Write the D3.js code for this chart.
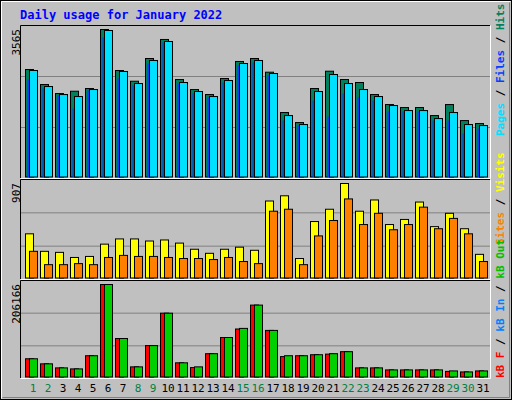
<!DOCTYPE html>
<html><head><meta charset="utf-8">
<script src="https://cdn.jsdelivr.net/npm/d3@7"></script>
<style>body{margin:0;background:#fff}svg{display:block}</style>
</head><body>
<svg id="chart" width="512" height="400"></svg>
<script>
const days = d3.range(1, 32)
const weekend = [1, 2, 8, 9, 15, 16, 22, 23, 29, 30]

const hits  = [2598,2235,2017,2073,2138,3565,2574,2315,2864,3324,2356,2114,1993,2380,2792,2864,2533,1558,1316,2138,2557,2356,2284,1993,1751,1679,1679,1485,1751,1364,1292]
const pages = [2574,2187,1993,1945,2114,3541,2550,2259,2816,3275,2284,2066,1945,2332,2743,2816,2501,1485,1268,2066,2477,2259,2114,1945,1727,1606,1606,1413,1558,1268,1243]
const files = [2356,2138,1969,1655,2090,3372,2380,2211,2743,3251,2259,2017,1921,2284,2695,2767,2453,1364,1243,1848,1461,2017,1921,1848,1582,1582,1582,1364,1364,1050,1171]
const visits = [424,256,246,197,207,325,375,375,355,365,335,276,237,276,296,266,739,789,187,542,660,907,641,749,513,562,729,493,621,473,227]
const sites  = [256,128,128,138,128,197,217,207,207,197,187,187,177,197,158,138,641,660,128,404,552,759,513,621,463,513,680,473,572,424,158]
const kbOut = [40630,29344,20315,18058,47401,206166,85774,22572,69973,142204,31601,22572,51916,88031,108346,160261,103831,47401,47401,49658,51916,56430,20315,20315,15800,15800,15800,15800,13543,11286,13543]
const kbF   = [40630,29344,20315,18058,47401,206166,85774,22572,69973,142204,31601,21000,51916,88031,107000,160261,103831,45500,47401,49658,51000,56430,20315,20315,15800,15800,15800,15800,12500,11286,13543]

const svg = d3.select("#chart")
const font = "'DejaVu Sans Mono', monospace"

svg.append("rect").attr("width", 512).attr("height", 400).attr("fill", "#c0c0c0")
svg.append("rect").attr("x", 0.5).attr("y", 0.5).attr("width", 511).attr("height", 399).attr("fill", "none").attr("stroke", "#000")
svg.append("path").attr("d", "M1.5,398.5V1.5H510.5").attr("fill", "none").attr("stroke", "#fff")
svg.append("path").attr("d", "M2.5,397.5H509.5V2.5").attr("fill", "none").attr("stroke", "#808080")

svg.append("text").attr("x", 20).attr("y", 19).attr("fill", "#0000ff")
    .attr("font-family", font).attr("font-weight", "bold").attr("font-size", 12)
    .text("Daily usage for January 2022")

const x = d3.scaleBand().domain(days).range([20, 485]).paddingInner(0)
// slot width 15 starting at x=25
const slotX = d => 25 + (d - 1) * 15

function panel(top, bottom, max, label, legend, series) {
    svg.append("path").attr("d", `M20.5,${bottom}V${top + 0.5}H490`).attr("fill", "none").attr("stroke", "#000")
    svg.append("path").attr("d", `M20.5,${bottom + 0.5}H490.5V${top + 0.5}`).attr("fill", "none").attr("stroke", "#fff")
    const h = (bottom - top) / 3
    for (let i = 1; i < 3; i++) {
        svg.append("line").attr("x1", 21).attr("x2", 490).attr("y1", top + i * h + 0.5).attr("y2", top + i * h + 0.5)
            .attr("stroke", "#808080")
    }
    const y = d3.scaleLinear().domain([0, max]).range([bottom - 1.5, top + 4])
    series.forEach(s => {
        svg.append("g").selectAll("rect").data(s.data).enter().append("rect")
            .attr("x", (v, i) => slotX(i + 1) + s.off + 0.5)
            .attr("y", v => y(v) + 0.5)
            .attr("width", s.w)
            .attr("height", v => bottom - 1.5 - y(v))
            .attr("fill", s.color).attr("stroke", s.stroke === false ? "none" : "#000")
    })
    svg.append("text").attr("transform", `translate(20,${top + 4}) rotate(-90)`)
        .attr("text-anchor", "end").attr("font-family", font).attr("font-size", 11).text(label)
    const t = svg.append("text").attr("transform", `translate(504,${legend.y}) rotate(-90)`)
        .attr("font-family", font).attr("font-size", 11).attr("font-weight", "bold")
    legend.parts.forEach(p => t.append("tspan").attr("fill", p[1]).text(p[0]))
}

panel(25, 178, 3565, "3565",
    { y: 136, parts: [["Pages", "#00e0ff"], [" / ", "#000"], ["Files", "#0040ff"], [" / ", "#000"], ["Hits", "#00805c"]] },
    [{ data: hits, off: 0, w: 8, color: "#00805c" },
     { data: files, off: 2, w: 3, color: "#0040ff", stroke: false },
     { data: pages, off: 4, w: 8, color: "#00e0ff" }])

panel(179, 279, 907, "907",
    { y: 245, parts: [["Sites", "#ff8000"], [" / ", "#000"], ["Visits", "#ffff00"]] },
    [{ data: visits, off: 0, w: 8, color: "#ffff00" },
     { data: sites, off: 4, w: 8, color: "#ff8000" }])

panel(280, 378, 206166, "206166",
    { y: 378, parts: [["kB F", "#ff0000"], [" / ", "#000"], ["kB In", "#0080ff"], [" / ", "#000"], ["kB Out", "#00c000"]] },
    [{ data: kbF, off: 0, w: 8, color: "#ff0000" },
     { data: kbOut, off: 4, w: 8, color: "#00d000" }])

svg.append("g").selectAll("text").data(days).enter().append("text")
    .attr("x", d => slotX(d) + 8).attr("y", 392).attr("text-anchor", "middle")
    .attr("font-family", font).attr("font-size", 11)
    .attr("fill", d => weekend.includes(d) ? "#008040" : "#000")
    .text(d => d)
</script>
</body></html>
